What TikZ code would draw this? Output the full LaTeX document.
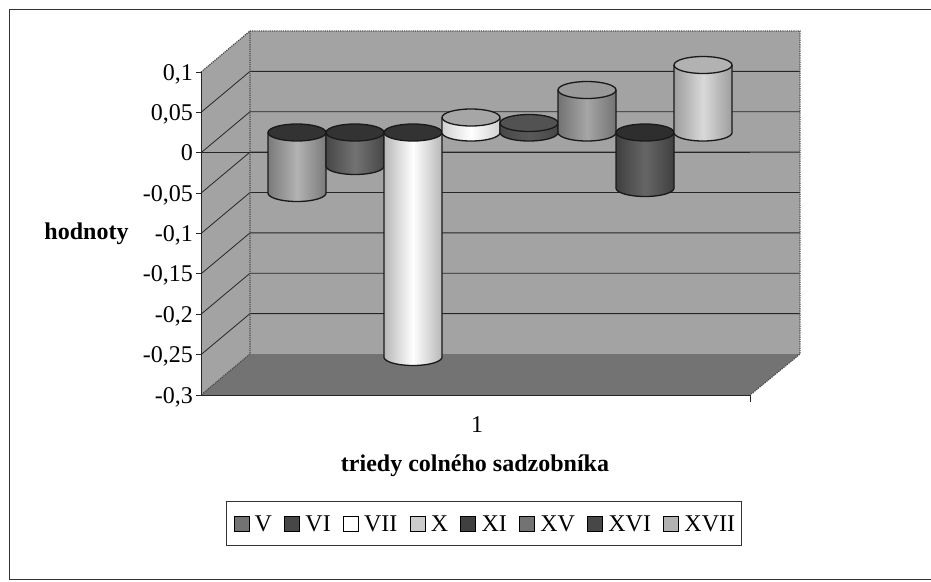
\documentclass[tikz,border=0pt]{standalone}
\usepackage{fontspec}
\setmainfont{Liberation Serif}
\usetikzlibrary{positioning}
\definecolor{wallgray}{gray}{0.64}
\definecolor{floorgray}{gray}{0.45}
\newcommand{\mycyl}[6]{%
  \shade[left color=#4,right color=#4,middle color=#5]
    (#1-29,#2) -- (#1-29,#3) -- plot[domain=180:0,samples=36] ({#1+29*cos(\x)},{#3+8.5*sin(\x)}) -- (#1+29,#2) -- cycle;
  \draw[cyledge] (#1-29,#2) -- (#1-29,#3) -- plot[domain=180:0,samples=36] ({#1+29*cos(\x)},{#3+8.5*sin(\x)}) -- (#1+29,#2);
  \filldraw[fill=#6,cyledge] (#1,#2) ellipse [x radius=29pt,y radius=8.5pt];
}
\begin{document}
\begin{tikzpicture}[x=1pt,y=-1pt,
  grid/.style={draw=black!85,line width=0.8pt},
  walledge/.style={draw=black!70,line width=1.2pt,densely dotted},
  cyledge/.style={draw=black!90,line width=1.3pt},
  lbl/.style={inner sep=0pt,font=\fontsize{24}{28}\selectfont},
  legmark/.style={draw=black,line width=1pt,minimum size=15pt,inner sep=0pt},
  frameline/.style={draw=black!80,line width=1pt}]
\useasboundingbox (0,0) rectangle (931,581);
% outer frame
\draw[frameline] (931,9.5) -- (9.5,9.5) -- (9.5,579) -- (931,579);
% walls and floor
\fill[wallgray] (250,31) rectangle (800,354);
\fill[wallgray] (201,72) -- (250,31) -- (250,354) -- (201,395) -- cycle;
\fill[floorgray] (201,395) -- (250,354) -- (800,354) -- (750,395) -- cycle;
% gridlines
\foreach \k in {1,...,7}{
  \pgfmathsetmacro{\yf}{72+40.375*\k}
  \draw[grid] (201,\yf) -- (250,\yf-41) -- (800,\yf-41);
}
% wall edges
\draw[walledge] (201,72) -- (250,31) -- (800,31) -- (800,354) -- (750,395);
\draw[walledge] (250,31) -- (250,354) -- (201,395);
\draw[grid] (201,395) -- (750,395) -- (750,402);
% value axis
\draw[grid] (201,72) -- (201,395);
\foreach \k/\t in {0/{0,1},1/{0,05},2/{0},3/{-0,05},4/{-0,1},5/{-0,15},6/{-0,2},7/{-0,25},8/{-0,3}}{
  \pgfmathsetmacro{\yf}{72+40.375*\k}
  \draw[grid] (196,\yf) -- (201,\yf);
  \node[lbl,anchor=base east] (ylab\k) at (193,\yf+8) {\t};
}
% zero category axis
\draw[grid] (201,152.75) -- (750,152.75);
% cylinders
\mycyl{297}{132.5}{193}{black!52}{black!30}{black!80}
\mycyl{355}{132.5}{166}{black!72}{black!55}{black!80}
\mycyl{413}{132.5}{357}{black!28}{white}{black!80}
\mycyl{471}{117.5}{132.5}{black!18}{white}{black!35}
\mycyl{529}{123}{132.5}{black!72}{black!65}{black!68}
\mycyl{587}{90}{132.5}{black!55}{black!35}{black!40}
\mycyl{645}{132.5}{188}{black!75}{black!60}{black!82}
\mycyl{703}{65}{132.5}{black!38}{black!15}{black!30}
% axis titles
\node[lbl,font=\fontsize{24}{28}\selectfont\bfseries] (ytitle) at (86.5,234) {hodnoty};
\node[lbl,anchor=base] (catlab) at (477,432.5) {1};
\node[lbl,anchor=base,font=\fontsize{24}{28}\selectfont\bfseries] (xtitle) at (475,471) {triedy colného sadzobníka};
% legend
\node[draw=black!80,line width=0.8pt,minimum width=515pt,minimum height=44pt,inner sep=0pt] (legend) at (483.5,523) {};
\node[legmark,fill=black!55] (m1) at (241.5,523.5) {};
\node[lbl,right=5pt of m1] (t1) {V};
\node[legmark,fill=black!72,right=12pt of t1] (m2) {};
\node[lbl,right=5pt of m2] (t2) {VI};
\node[legmark,fill=white,right=12pt of t2] (m3) {};
\node[lbl,right=5pt of m3] (t3) {VII};
\node[legmark,fill=black!20,right=12pt of t3] (m4) {};
\node[lbl,right=5pt of m4] (t4) {X};
\node[legmark,fill=black!75,right=12pt of t4] (m5) {};
\node[lbl,right=5pt of m5] (t5) {XI};
\node[legmark,fill=black!55,right=12pt of t5] (m6) {};
\node[lbl,right=5pt of m6] (t6) {XV};
\node[legmark,fill=black!72,right=12pt of t6] (m7) {};
\node[lbl,right=5pt of m7] (t7) {XVI};
\node[legmark,fill=black!30,right=12pt of t7] (m8) {};
\node[lbl,right=5pt of m8] (t8) {XVII};
\end{tikzpicture}
\end{document}
